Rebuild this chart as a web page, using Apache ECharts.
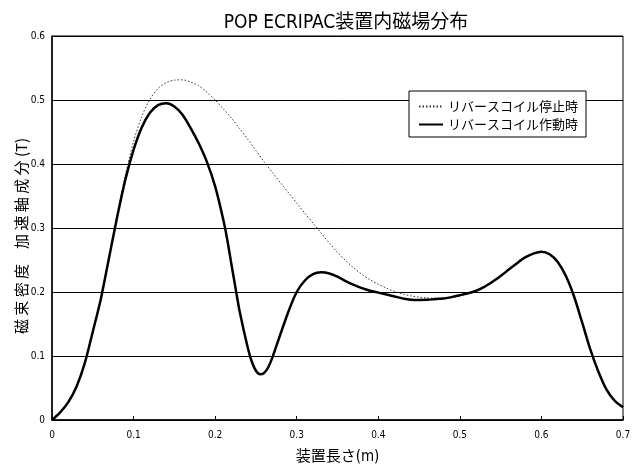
<!DOCTYPE html>
<html><head><meta charset="utf-8">
<script src="https://cdn.jsdelivr.net/npm/echarts@6/dist/echarts.min.js"></script>
<style>html,body{margin:0;padding:0;background:#fff}#c{width:640px;height:470px}</style>
</head><body><div id="c"></div>
<script>
const titleText = "POP ECRIPAC装置内磁場分布";
const xName = "装置長さ(m)";
const yName = "磁 束 密 度　加 速 軸 成 分 (T)";
const seriesNames = ["リバースコイル停止時", "リバースコイル作動時"];

const xSolid = [0,0.01,0.02,0.03,0.04,0.05,0.06,0.07,0.08,0.09,0.10,0.11,0.12,0.13,0.14,0.15,0.16,0.17,0.18,0.19,0.20,0.21,0.215,0.22,0.225,0.23,0.24,0.245,0.25,0.255,0.26,0.265,0.27,0.28,0.29,0.30,0.31,0.32,0.33,0.34,0.35,0.36,0.37,0.38,0.39,0.40,0.41,0.42,0.43,0.44,0.45,0.46,0.47,0.48,0.49,0.50,0.51,0.52,0.53,0.54,0.55,0.56,0.57,0.58,0.59,0.60,0.61,0.62,0.63,0.64,0.65,0.66,0.67,0.68,0.69,0.70];
const ySolid = [0,0.012,0.028,0.052,0.088,0.138,0.190,0.254,0.318,0.376,0.422,0.457,0.480,0.492,0.495,0.490,0.477,0.456,0.432,0.403,0.365,0.313,0.281,0.243,0.206,0.170,0.113,0.091,0.077,0.0715,0.0735,0.082,0.097,0.134,0.170,0.200,0.218,0.228,0.2308,0.229,0.224,0.217,0.211,0.206,0.202,0.199,0.196,0.193,0.190,0.188,0.1875,0.1877,0.189,0.190,0.192,0.195,0.198,0.202,0.208,0.216,0.225,0.235,0.245,0.254,0.260,0.263,0.259,0.247,0.225,0.193,0.152,0.110,0.075,0.047,0.030,0.020];

const xDotted = [0,0.01,0.02,0.03,0.04,0.05,0.06,0.07,0.08,0.09,0.10,0.11,0.12,0.13,0.14,0.15,0.16,0.17,0.18,0.19,0.20,0.21,0.22,0.23,0.24,0.25,0.26,0.27,0.28,0.29,0.30,0.31,0.32,0.33,0.34,0.35,0.36,0.37,0.38,0.39,0.40,0.41,0.42,0.43,0.44,0.45,0.46,0.47,0.48,0.49,0.50,0.51,0.52,0.53,0.54,0.55,0.56,0.57,0.58,0.59,0.60,0.61,0.62,0.63,0.64,0.65,0.66,0.67,0.68,0.69,0.70];
const yDotted = [0,0.012,0.028,0.052,0.088,0.138,0.190,0.254,0.320,0.383,0.435,0.474,0.501,0.518,0.527,0.531,0.5315,0.528,0.522,0.512,0.500,0.4862,0.4715,0.4555,0.4385,0.421,0.4035,0.387,0.371,0.355,0.339,0.323,0.3075,0.292,0.2765,0.262,0.249,0.2375,0.2275,0.219,0.212,0.206,0.201,0.197,0.194,0.192,0.1908,0.1903,0.1906,0.1918,0.194,0.1975,0.202,0.208,0.216,0.225,0.235,0.245,0.254,0.260,0.263,0.259,0.247,0.225,0.193,0.152,0.110,0.075,0.047,0.030,0.020];

const xTicks = [0,0.1,0.2,0.3,0.4,0.5,0.6,0.7];
const yTicks = [0,0.1,0.2,0.3,0.4,0.5,0.6];

const pairs = (xs, ys) => xs.map((x, i) => [x, ys[i]]);
const narrow = "'Liberation Sans Narrow','DejaVu Sans Condensed','Liberation Sans',sans-serif";
const jp = "'Liberation Sans Narrow','DejaVu Sans Condensed','Noto Sans CJK JP',sans-serif";
const fmt = list => v => { const r = +(+v).toFixed(1); return list.includes(r) ? String(r) : ''; };

const chart = echarts.init(document.getElementById('c'), null, {renderer: 'canvas'});
chart.setOption({
  animation: false,
  backgroundColor: '#fff',
  title: {text: titleText, left: 341, top: 9, textAlign: 'center',
    textStyle: {fontFamily: jp, fontSize: 19, fontWeight: 'normal', color: '#000'}},
  grid: {left: 52, right: 17, top: 36, bottom: 44, show: true, borderColor: '#000', borderWidth: 1},
  legend: {
    orient: 'vertical', left: 409, top: 91, padding: [9, 8, 6, 9],
    backgroundColor: '#fff', borderColor: '#000', borderWidth: 1, borderRadius: 0,
    itemWidth: 24, itemHeight: 14, itemGap: 5,
    itemStyle: {color: 'rgba(0,0,0,0)', borderWidth: 0},
    textStyle: {fontFamily: "'Noto Sans CJK JP',sans-serif", fontSize: 13, color: '#000'},
    data: seriesNames
  },
  xAxis: {
    type: 'value', min: 0, max: 0.7, interval: 0.1,
    name: xName, nameLocation: 'middle', nameGap: 30,
    nameTextStyle: {fontFamily: jp, fontSize: 15, color: '#000'},
    axisLine: {lineStyle: {color: '#000', width: 1.5}},
    axisTick: {show: true, inside: true, length: 4, lineStyle: {color: '#000'}},
    axisLabel: {fontFamily: narrow, fontSize: 10, color: '#000', margin: 10, formatter: fmt(xTicks)},
    splitLine: {show: false}
  },
  yAxis: {
    type: 'value', min: 0, max: 0.6, interval: 0.1,
    axisLine: {show: true, lineStyle: {color: '#000', width: 1.5}},
    axisTick: {show: false},
    axisLabel: {fontFamily: narrow, fontSize: 10, color: '#000', margin: 7, formatter: fmt(yTicks)},
    splitLine: {show: true, lineStyle: {color: '#000', width: 1}}
  },
  graphic: [{
    type: 'text', rotation: Math.PI / 2, x: 21, y: 236,
    style: {text: yName, fontFamily: "'Noto Sans CJK JP',sans-serif", fontSize: 15, fill: '#000', textAlign: 'center', textVerticalAlign: 'middle'}
  }],
  series: [
    {name: seriesNames[0], type: 'line', data: pairs(xDotted, yDotted), smooth: 0.3, symbol: 'none',
      itemStyle: {color: '#333'},
      lineStyle: {color: '#333', width: 1, type: [1.5, 2]}, z: 3},
    {name: seriesNames[1], type: 'line', data: pairs(xSolid, ySolid), smooth: 0.3, symbol: 'none',
      itemStyle: {color: '#000'},
      lineStyle: {color: '#000', width: 2.5}, z: 4}
  ]
});
</script></body></html>
